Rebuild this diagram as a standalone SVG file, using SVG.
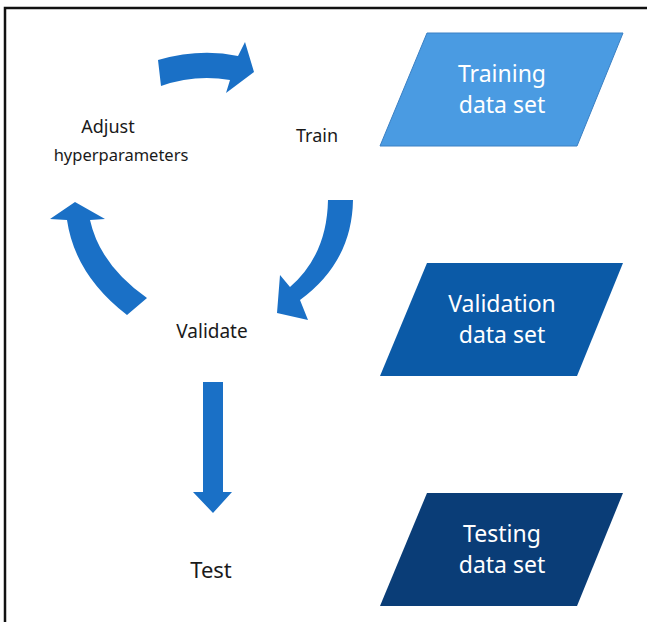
<svg xmlns="http://www.w3.org/2000/svg" width="647" height="622" viewBox="0 0 647 622">
<style>
.lbl{font-family:"Noto Sans","Open Sans",sans-serif;fill:#1a1a1a;text-anchor:middle}
.in{font-family:"Noto Sans","Open Sans",sans-serif;fill:#ffffff;font-size:23px;text-anchor:middle}
.arr{fill:#1a70c6}
</style>
<rect width="647" height="622" fill="#ffffff"/>
<path d="M5,622 L5,8 L647,8" fill="none" stroke="#111" stroke-width="2.5"/>
<g id="connectors">
<path class="arr" d="M158,60 Q200,48 238,56 L245,42 L254,72 L226,93 L230,80 Q195,74 161,86 Z"/>
<path class="arr" d="M75,202 L105,219 L90,220 Q100,265 147,298 L127,315 Q75,275 67,220 L50,219 Z"/>
<path class="arr" d="M328,200 L353,200 Q352,262 300,300 L308,320 L277,313 L280,275 L290,287 Q327,255 328,200 Z"/>
<path class="arr" d="M203,382 L223,382 L223,492 L232,492 L213,513 L193,492 L203,492 Z"/>
</g>
<g id="adjust"><text class="lbl" font-size="18" x="108" y="133">Adjust</text><text class="lbl" font-size="16.5" x="121" y="161">hyperparameters</text></g>
<g id="train"><text class="lbl" font-size="18" x="317" y="142">Train</text></g>
<g id="validate"><text class="lbl" font-size="19" x="212" y="338">Validate</text></g>
<g id="test"><text class="lbl" font-size="22" x="211" y="578">Test</text></g>
<g id="training"><polygon points="427,33 623,33 577,146 380,146" fill="#4a9be2" stroke="#3a80c4" stroke-width="1"/><text class="in" x="502" y="82">Training</text><text class="in" x="502" y="113">data set</text></g>
<g id="validation"><polygon points="427,263 623,263 577,376 380,376" fill="#0b5aa7"/><text class="in" x="502" y="312">Validation</text><text class="in" x="502" y="343">data set</text></g>
<g id="testing"><polygon points="427,493 623,493 577,606 380,606" fill="#0a3d77"/><text class="in" x="502" y="542">Testing</text><text class="in" x="502" y="573">data set</text></g>
</svg>
